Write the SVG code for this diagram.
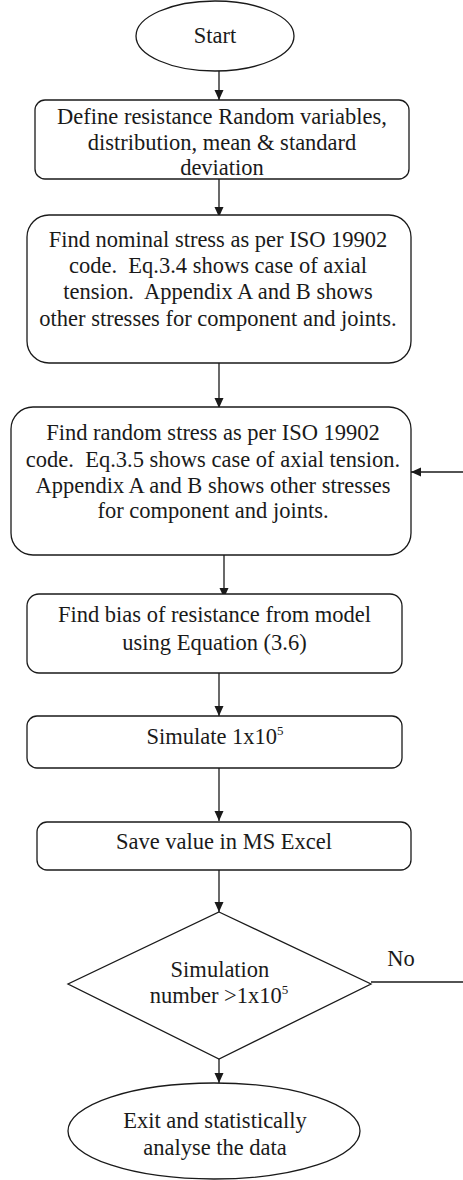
<svg xmlns="http://www.w3.org/2000/svg" width="463" height="1180" viewBox="0 0 463 1180">
<defs>
<marker id="ah" markerWidth="10" markerHeight="10" refX="10" refY="5" orient="auto" markerUnits="userSpaceOnUse">
<path d="M0,0.5 L10,5 L0,9.5 Z" fill="#1a1a1a"/>
</marker>
</defs>
<style>
.s{fill:#fff;stroke:#1a1a1a;stroke-width:1.3}
.t{font-family:"Liberation Serif","Times New Roman",serif;font-size:22.5px;fill:#1a1a1a;text-anchor:middle}
.c{stroke:#1a1a1a;stroke-width:1.3;fill:none}
.sup{font-size:13px}
</style>
<rect width="463" height="1180" fill="#fff"/>
<g id="connectors">
<line class="c" x1="219" y1="71" x2="219" y2="100" marker-end="url(#ah)"/>
<line class="c" x1="219" y1="179" x2="219" y2="217" marker-end="url(#ah)"/>
<line class="c" x1="219" y1="363" x2="219" y2="408" marker-end="url(#ah)"/>
<line class="c" x1="463" y1="472" x2="411" y2="472" marker-end="url(#ah)"/>
<line class="c" x1="224" y1="555" x2="224" y2="598" marker-end="url(#ah)"/>
<line class="c" x1="219" y1="673" x2="219" y2="716" marker-end="url(#ah)"/>
<line class="c" x1="219" y1="768" x2="219" y2="821" marker-end="url(#ah)"/>
<line class="c" x1="219" y1="870" x2="219" y2="912" marker-end="url(#ah)"/>
<line class="c" x1="371" y1="982" x2="463" y2="982"/>
<line class="c" x1="219" y1="1059" x2="219" y2="1083" marker-end="url(#ah)"/>
<text class="t" x="401" y="966">No</text>
</g>
<g id="start">
<ellipse class="s" cx="215" cy="36" rx="79" ry="35"/>
<text class="t" x="215" y="43">Start</text>
</g>
<g id="define">
<rect class="s" x="35" y="100" width="374" height="79" rx="10"/>
<text class="t" x="222" y="124">Define resistance Random variables,</text>
<text class="t" x="222" y="150">distribution, mean &amp; standard</text>
<text class="t" x="222" y="175">deviation</text>
</g>
<g id="nominal">
<rect class="s" x="27" y="215" width="384" height="148" rx="22"/>
<text class="t" x="218" y="247">Find nominal stress as per ISO 19902</text>
<text class="t" x="218" y="273">code.&#160; Eq.3.4 shows case of axial</text>
<text class="t" x="218" y="299">tension.&#160; Appendix A and B shows</text>
<text class="t" x="218" y="326">other stresses for component and joints.</text>
</g>
<g id="random">
<rect class="s" x="11" y="407" width="400" height="148" rx="22"/>
<text class="t" x="213" y="440">Find random stress as per ISO 19902</text>
<text class="t" x="213" y="467">code.&#160; Eq.3.5 shows case of axial tension.</text>
<text class="t" x="213" y="493">Appendix A and B shows other stresses</text>
<text class="t" x="213" y="518">for component and joints.</text>
</g>
<g id="bias">
<rect class="s" x="27" y="594" width="375" height="79" rx="12"/>
<text class="t" x="214.5" y="622">Find bias of resistance from model</text>
<text class="t" x="214.5" y="650">using Equation (3.6)</text>
</g>
<g id="simulate">
<rect class="s" x="27" y="716" width="375" height="52" rx="10"/>
<text class="t" x="215" y="744">Simulate 1x10<tspan class="sup" dy="-9">5</tspan></text>
</g>
<g id="save">
<rect class="s" x="37" y="822" width="374" height="48" rx="10"/>
<text class="t" x="224" y="849">Save value in MS Excel</text>
</g>
<g id="decision">
<polygon class="s" points="219,912 371,984 219,1059 68,984"/>
<text class="t" x="220" y="977">Simulation</text>
<text class="t" x="219" y="1003">number &gt;1x10<tspan class="sup" dy="-9">5</tspan></text>
</g>
<g id="exit">
<ellipse class="s" cx="214" cy="1131" rx="146" ry="48"/>
<text class="t" x="215" y="1128">Exit and statistically</text>
<text class="t" x="215" y="1155">analyse the data</text>
</g>
</svg>
